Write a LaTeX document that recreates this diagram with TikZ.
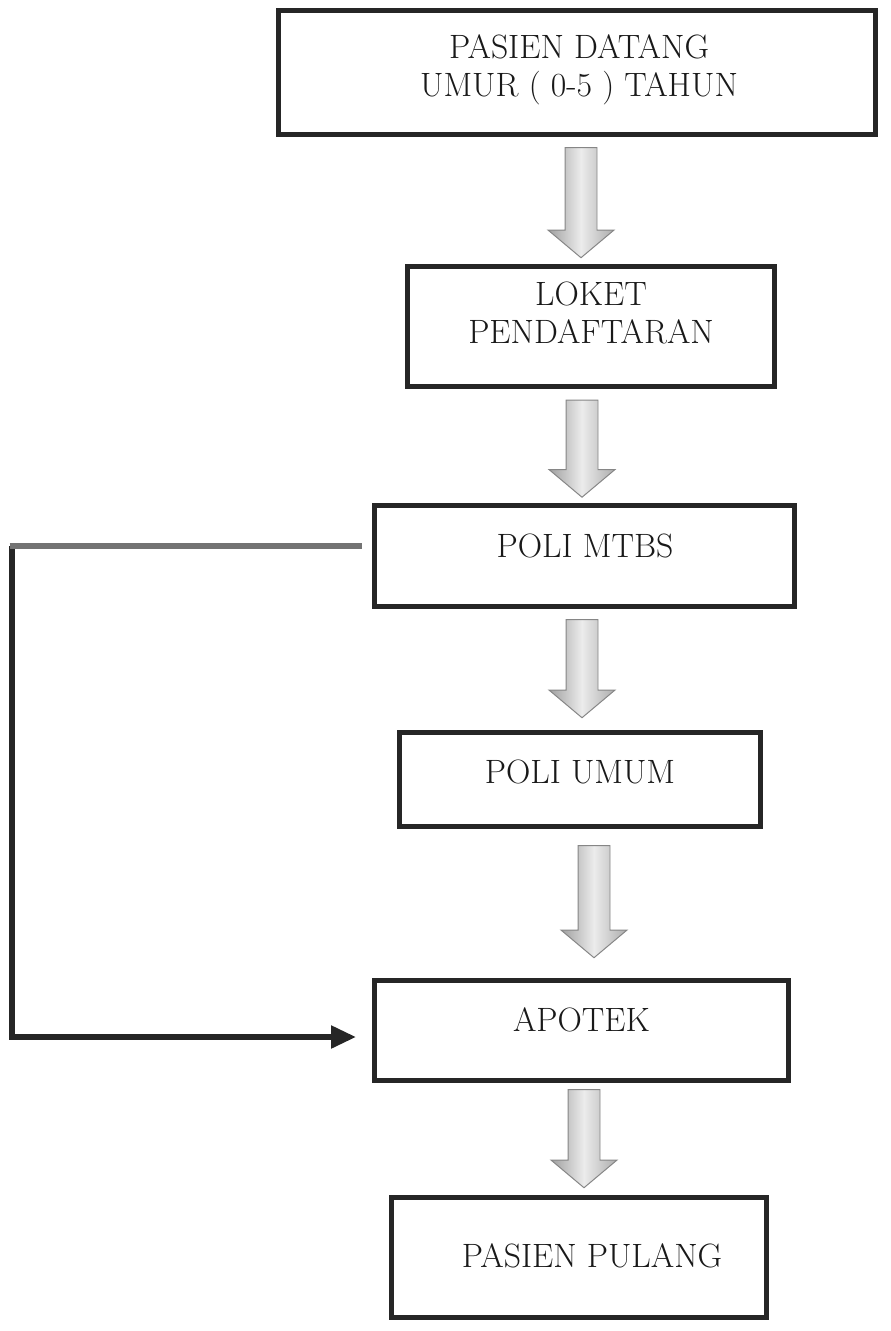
\documentclass[tikz,border=0pt]{standalone}
\usepackage{tikz}
\usetikzlibrary{arrows.meta}
\usetikzlibrary{shapes.arrows}

\begin{document}
\begin{tikzpicture}[x=0.025cm,y=-0.025cm,
	box/.style={draw=black!85,line width=3.6pt,rectangle,inner sep=0pt},
	lbl/.style={font=\fontsize{24}{27}\selectfont,align=center,inner sep=0pt,text=black!90},
	fatarrow/.style={single arrow,draw=gray!95,line width=0.7pt,shape border rotate=270,
		minimum width=1.625cm,single arrow head extend=0.425cm,single arrow tip angle=100,
		inner sep=0.3875cm,left color=gray!75,right color=gray!65,middle color=gray!15},
	sideline/.style={line width=3.6pt}]
			\useasboundingbox (0,0) rectangle (891,1331);
			
			\node[box,minimum width=14.925cm,minimum height=3.1cm] (datang) at (577,72.5){};
			\node[lbl] (tdatang) at (579,70){PASIEN DATANG\\UMUR ( 0-5 ) TAHUN};
			
			\node[box,minimum width=9.175cm,minimum height=3cm] (loket) at (591,326.5){};
			\node[lbl] (tloket) at (591,312.5){LOKET\\PENDAFTARAN};
			
			\node[box,minimum width=10.5cm,minimum height=2.525cm] (mtbs) at (584.5,556){};
			\node[lbl] (tmtbs) at (585,546){POLI MTBS};
			
			\node[box,minimum width=9.025cm,minimum height=2.35cm] (umum) at (580,779.5){};
			\node[lbl] (tumum) at (580,772){POLI UMUM};
			
			\node[box,minimum width=10.35cm,minimum height=2.5cm] (apotek) at (581.5,1030.5){};
			\node[lbl] (tapotek) at (581.5,1020){APOTEK};
			
			\node[box,minimum width=9.375cm,minimum height=3cm] (pulang) at (579,1257.5){};
			\node[lbl] (tpulang) at (592,1256){PASIEN PULANG};
			
			% panah blok di antara kotak
			\node[fatarrow,minimum height=2.75cm] (p1) at (581,196){};
			\node[fatarrow,minimum height=2.425cm] (p2) at (582,442){};
			\node[fatarrow,minimum height=2.45cm] (p3) at (582,662){};
			\node[fatarrow,minimum height=2.8cm] (p4) at (594,895){};
			\node[fatarrow,minimum height=2.45cm] (p5) at (584,1132){};
			
			% jalur samping dari poli mtbs ke apotek
			\coordinate (k1) at (12,546);
			\coordinate (k2) at (12,1037);
			\draw[sideline,black!85,shorten >=0.4cm,-{Triangle[length=0.62cm,width=0.55cm]}] (k1)--(k2)--(k2 -| apotek.west);
			\draw[sideline,black!55,shorten <=-0.06cm,shorten >=0.24cm] (k1)--(k1 -| mtbs.west);
		\end{tikzpicture}
\end{document}
